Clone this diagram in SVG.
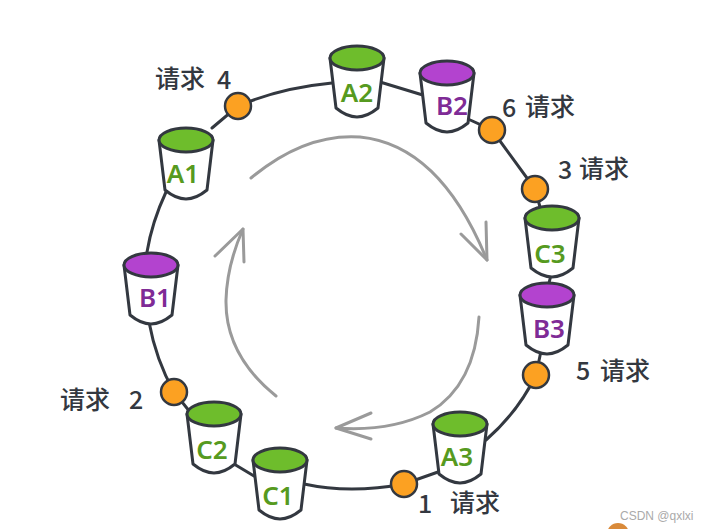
<svg xmlns="http://www.w3.org/2000/svg" width="701" height="529" viewBox="0 0 701 529">
<style>
.r{fill:none;stroke:#333840;stroke-width:3;stroke-linecap:round}
.g{fill:none;stroke:#9a9a9a;stroke-width:3;stroke-linecap:round;stroke-linejoin:round}
.b{fill:#fff;stroke:#333840;stroke-width:3;stroke-linejoin:round}
.e{stroke:#333840;stroke-width:3}
.gr{fill:#6ebd2c}.pu{fill:#b343cf}
.o{fill:#fca122;stroke:#333840;stroke-width:2.5}
.t{font:600 26px "Noto Sans","Liberation Sans",sans-serif;text-anchor:middle}
.tg{fill:#569a20}.tp{fill:#7f2b96}
.l{font:500 25px "Noto Sans CJK SC","Noto Sans",sans-serif;fill:#333840}
</style>
<defs>
<g id="bk"><path class="b" d="M-27 0L-21 50Q-10 59 0 59Q10 59 21 50L27 0Z"/></g>
</defs>
<rect width="701" height="529" fill="#fff"/>
<g id="connectors">
<path class="r" d="M332 83Q280 88 238 106L212 128"/>
<path class="r" d="M380 82L426 96"/>
<path class="r" d="M468 119L492 130L535 189L540 207"/>
<path class="r" d="M166 192Q152 222 147 252"/>
<path class="r" d="M149 322Q156 360 174 392L190 412"/>
<path class="r" d="M234 464L254 476"/>
<path class="r" d="M304 484Q350 494 404 484L438 472"/>
<path class="r" d="M486 440Q518 412 536 375L541 351"/>
<path class="r" d="M551 275L549 283"/>
<path class="g" d="M251 178Q305 133 360 137Q440 145 487 260"/>
<path class="g" d="M461 234L487 260L486 222"/>
<path class="g" d="M479 317Q475 385 430 412Q390 432 336 428"/>
<path class="g" d="M371 413L336 428L371 439"/>
<path class="g" d="M276 396Q225 355 226 300Q227 265 243 229"/>
<path class="g" d="M215 256L243 229L244 262"/>
</g>
<g id="A2"><use href="#bk" x="357" y="58"/><ellipse class="e gr" cx="357" cy="58" rx="27" ry="12"/><text class="t tg" x="357" y="102">A2</text></g>
<g id="B2"><use href="#bk" x="447" y="73"/><ellipse class="e pu" cx="447" cy="73" rx="27" ry="12"/><text class="t tp" x="452" y="115">B2</text></g>
<g id="A1"><use href="#bk" x="186" y="140"/><ellipse class="e gr" cx="186" cy="140" rx="27" ry="12"/><text class="t tg" x="183" y="183">A1</text></g>
<g id="B1"><use href="#bk" x="151" y="265"/><ellipse class="e pu" cx="151" cy="265" rx="27" ry="12"/><text class="t tp" x="155" y="307">B1</text></g>
<g id="C2"><use href="#bk" x="214" y="414"/><ellipse class="e gr" cx="214" cy="414" rx="27" ry="12"/><text class="t tg" x="212" y="459">C2</text></g>
<g id="C1"><use href="#bk" x="280" y="460"/><ellipse class="e gr" cx="280" cy="460" rx="27" ry="12"/><text class="t tg" x="278" y="505">C1</text></g>
<g id="A3"><use href="#bk" x="460" y="424"/><ellipse class="e gr" cx="460" cy="424" rx="27" ry="12"/><text class="t tg" x="457" y="466">A3</text></g>
<g id="C3"><use href="#bk" x="552" y="218"/><ellipse class="e gr" cx="552" cy="218" rx="27" ry="12"/><text class="t tg" x="550" y="263">C3</text></g>
<g id="B3"><use href="#bk" x="547" y="295"/><ellipse class="e pu" cx="547" cy="295" rx="27" ry="12"/><text class="t tp" x="549" y="338">B3</text></g>
<g id="req4"><circle class="o" cx="238" cy="106" r="13"/><text class="l" x="155" y="88">请求</text><text class="l" x="217" y="89">4</text></g>
<g id="req6"><circle class="o" cx="492" cy="130" r="13"/><text class="l" x="502" y="117">6</text><text class="l" x="525" y="116">请求</text></g>
<g id="req3"><circle class="o" cx="535" cy="189" r="13"/><text class="l" x="558" y="179">3</text><text class="l" x="579" y="178">请求</text></g>
<g id="req5"><circle class="o" cx="536" cy="375" r="13"/><text class="l" x="576" y="380">5</text><text class="l" x="600" y="380">请求</text></g>
<g id="req1"><circle class="o" cx="404" cy="484" r="13"/><text class="l" x="418" y="513">1</text><text class="l" x="450" y="512">请求</text></g>
<g id="req2"><circle class="o" cx="174" cy="392" r="13"/><text class="l" x="60" y="409">请求</text><text class="l" x="129" y="409">2</text></g>
<g id="wm"><circle cx="618" cy="534" r="11" fill="#d98a3a"/><text x="620" y="520" font-family="Liberation Sans,sans-serif" font-size="12" fill="#aaa">CSDN @qxlxi</text></g>
</svg>
